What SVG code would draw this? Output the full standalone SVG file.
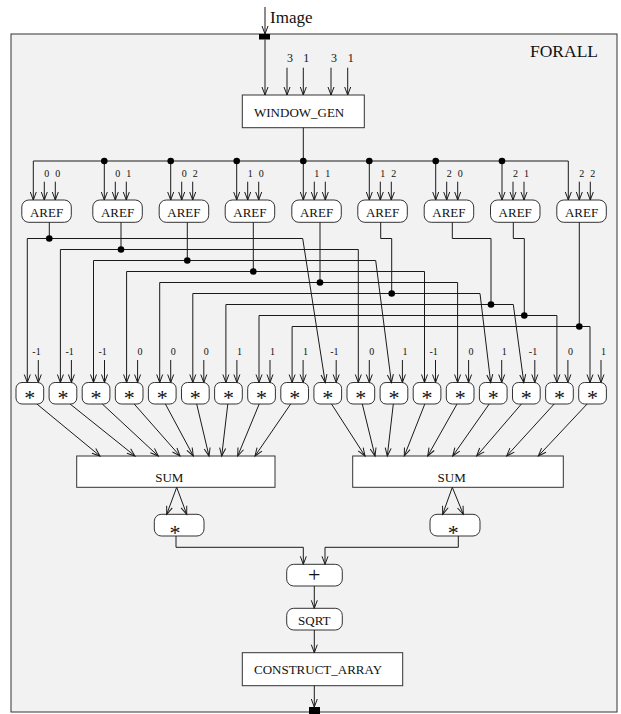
<svg xmlns="http://www.w3.org/2000/svg" width="621" height="714" viewBox="0 0 621 714">
<defs>
<marker id="a" markerUnits="userSpaceOnUse" markerWidth="12" markerHeight="10" viewBox="-10 -5 12 10" refX="0" refY="0" orient="auto"><path d="M-8,-3 L0,0 L-8,3" fill="none" stroke="#1a1a1a" stroke-width="1"/></marker>
</defs>
<style>
.ln{fill:none;stroke:#1a1a1a;stroke-width:1}
.ar{marker-end:url(#a)}
.box{fill:#fff;stroke:#333;stroke-width:1}
.dot{fill:#000}
text{font-family:"Liberation Serif","Times New Roman",serif;fill:#111}
.lb{font-size:13px}
.sm{font-size:10px}
.md{font-size:12px}
.st{font-size:22px;text-anchor:middle}
</style>
<rect id="forall" x="11" y="34" width="606" height="678" fill="#f2f2f2" stroke="#333" stroke-width="1"/>
<text x="530" y="56.7" style="font-size:17.5px">FORALL</text>
<g id="ports">
<rect x="259" y="34" width="11" height="5.5" fill="#000"/>
<rect x="309" y="707" width="11" height="7" fill="#000"/>
</g>
<text x="270" y="23" style="font-size:17px">Image</text>
<g id="window_gen"><rect class="box" x="242.3" y="95" width="122" height="32.7"/><text class="lb" x="254" y="116.7">WINDOW_GEN</text></g>
<g id="wg_params" class="md"><text x="287" y="61.7">3</text><text x="303.3" y="61.7">1</text><text x="331" y="61.7">3</text><text x="347.7" y="61.7">1</text></g>
<g id="aref1"><rect class="box" x="21.8" y="200" width="49.5" height="22.3" rx="7"/><text class="lb" x="46.5" y="216.7" text-anchor="middle">AREF</text></g>
<g id="aref2"><rect class="box" x="92.8" y="200" width="49.5" height="22.3" rx="7"/><text class="lb" x="117.5" y="216.7" text-anchor="middle">AREF</text></g>
<g id="aref3"><rect class="box" x="159.2" y="200" width="49.5" height="22.3" rx="7"/><text class="lb" x="183.9" y="216.7" text-anchor="middle">AREF</text></g>
<g id="aref4"><rect class="box" x="225.2" y="200" width="49.5" height="22.3" rx="7"/><text class="lb" x="249.9" y="216.7" text-anchor="middle">AREF</text></g>
<g id="aref5"><rect class="box" x="291.8" y="200" width="49.5" height="22.3" rx="7"/><text class="lb" x="316.5" y="216.7" text-anchor="middle">AREF</text></g>
<g id="aref6"><rect class="box" x="357.8" y="200" width="49.5" height="22.3" rx="7"/><text class="lb" x="382.5" y="216.7" text-anchor="middle">AREF</text></g>
<g id="aref7"><rect class="box" x="424.2" y="200" width="49.5" height="22.3" rx="7"/><text class="lb" x="448.9" y="216.7" text-anchor="middle">AREF</text></g>
<g id="aref8"><rect class="box" x="490.5" y="200" width="49.5" height="22.3" rx="7"/><text class="lb" x="515.2" y="216.7" text-anchor="middle">AREF</text></g>
<g id="aref9"><rect class="box" x="556.8" y="200" width="49.5" height="22.3" rx="7"/><text class="lb" x="581.5" y="216.7" text-anchor="middle">AREF</text></g>
<g id="aref_params" class="sm">
<text x="44.3" y="177.3">0</text><text x="55.3" y="177.3">0</text>
<text x="115.3" y="177.3">0</text><text x="126.3" y="177.3">1</text>
<text x="181.7" y="177.3">0</text><text x="192.7" y="177.3">2</text>
<text x="247.7" y="177.3">1</text><text x="258.7" y="177.3">0</text>
<text x="314.3" y="177.3">1</text><text x="325.3" y="177.3">1</text>
<text x="380.3" y="177.3">1</text><text x="391.3" y="177.3">2</text>
<text x="446.7" y="177.3">2</text><text x="457.7" y="177.3">0</text>
<text x="513" y="177.3">2</text><text x="524" y="177.3">1</text>
<text x="579.3" y="177.3">2</text><text x="590.3" y="177.3">2</text>
</g>
<g id="mul1"><rect class="box" x="16" y="382.5" width="27.7" height="21.5" rx="6"/><text class="st" x="29.85" y="404.5">*</text></g>
<g id="mul2"><rect class="box" x="49.1" y="382.5" width="27.7" height="21.5" rx="6"/><text class="st" x="62.95" y="404.5">*</text></g>
<g id="mul3"><rect class="box" x="82.2" y="382.5" width="27.7" height="21.5" rx="6"/><text class="st" x="96.05" y="404.5">*</text></g>
<g id="mul4"><rect class="box" x="115.3" y="382.5" width="27.7" height="21.5" rx="6"/><text class="st" x="129.15" y="404.5">*</text></g>
<g id="mul5"><rect class="box" x="148.4" y="382.5" width="27.7" height="21.5" rx="6"/><text class="st" x="162.25" y="404.5">*</text></g>
<g id="mul6"><rect class="box" x="181.5" y="382.5" width="27.7" height="21.5" rx="6"/><text class="st" x="195.35" y="404.5">*</text></g>
<g id="mul7"><rect class="box" x="214.6" y="382.5" width="27.7" height="21.5" rx="6"/><text class="st" x="228.45" y="404.5">*</text></g>
<g id="mul8"><rect class="box" x="247.7" y="382.5" width="27.7" height="21.5" rx="6"/><text class="st" x="261.55" y="404.5">*</text></g>
<g id="mul9"><rect class="box" x="280.8" y="382.5" width="27.7" height="21.5" rx="6"/><text class="st" x="294.65" y="404.5">*</text></g>
<g id="mul10"><rect class="box" x="313.9" y="382.5" width="27.7" height="21.5" rx="6"/><text class="st" x="327.75" y="404.5">*</text></g>
<g id="mul11"><rect class="box" x="347" y="382.5" width="27.7" height="21.5" rx="6"/><text class="st" x="360.85" y="404.5">*</text></g>
<g id="mul12"><rect class="box" x="380.1" y="382.5" width="27.7" height="21.5" rx="6"/><text class="st" x="393.95" y="404.5">*</text></g>
<g id="mul13"><rect class="box" x="413.2" y="382.5" width="27.7" height="21.5" rx="6"/><text class="st" x="427.05" y="404.5">*</text></g>
<g id="mul14"><rect class="box" x="446.3" y="382.5" width="27.7" height="21.5" rx="6"/><text class="st" x="460.15" y="404.5">*</text></g>
<g id="mul15"><rect class="box" x="479.4" y="382.5" width="27.7" height="21.5" rx="6"/><text class="st" x="493.25" y="404.5">*</text></g>
<g id="mul16"><rect class="box" x="512.5" y="382.5" width="27.7" height="21.5" rx="6"/><text class="st" x="526.35" y="404.5">*</text></g>
<g id="mul17"><rect class="box" x="545.6" y="382.5" width="27.7" height="21.5" rx="6"/><text class="st" x="559.45" y="404.5">*</text></g>
<g id="mul18"><rect class="box" x="578.7" y="382.5" width="27.7" height="21.5" rx="6"/><text class="st" x="592.55" y="404.5">*</text></g>
<g id="mul_params" class="sm">
<text x="32.3" y="355">-1</text><text x="65.4" y="355">-1</text><text x="98.5" y="355">-1</text>
<text x="137.6" y="355">0</text><text x="170.7" y="355">0</text><text x="203.8" y="355">0</text>
<text x="236.9" y="355">1</text><text x="270" y="355">1</text><text x="303.1" y="355">1</text>
<text x="330.2" y="355">-1</text><text x="369.3" y="355">0</text><text x="402.4" y="355">1</text>
<text x="429.5" y="355">-1</text><text x="468.6" y="355">0</text><text x="501.7" y="355">1</text>
<text x="528.8" y="355">-1</text><text x="567.9" y="355">0</text><text x="601" y="355">1</text>
</g>
<g id="sum1"><rect class="box" x="76.7" y="456" width="198.3" height="31.3"/><text class="lb" x="169.3" y="481.7" text-anchor="middle">SUM</text></g>
<g id="sum2"><rect class="box" x="352.7" y="456" width="210.6" height="31.3"/><text class="lb" x="451.7" y="481.7" text-anchor="middle">SUM</text></g>
<g id="sq1"><rect class="box" x="154.3" y="514.3" width="49.7" height="21.7" rx="7"/><text class="st" x="175" y="539.5">*</text></g>
<g id="sq2"><rect class="box" x="430" y="514.3" width="50" height="21.7" rx="7"/><text class="st" x="453.3" y="539.5">*</text></g>
<g id="plus"><rect class="box" x="286.7" y="564.3" width="55.6" height="21.7" rx="7"/><text x="314.3" y="582.3" text-anchor="middle" style="font-size:22px">+</text></g>
<g id="sqrt"><rect class="box" x="286.7" y="608.3" width="55.6" height="21.7" rx="7"/><text class="lb" x="314.3" y="624.8" text-anchor="middle">SQRT</text></g>
<g id="construct_array"><rect class="box" x="242.3" y="652.7" width="160.4" height="33"/><text class="lb" x="254" y="674.3">CONSTRUCT_ARRAY</text></g>
<g id="connectors">
<path class="ln ar" d="M265,7 V34"/>
<path class="ln ar" d="M265,39.5 V95"/>
<path class="ln ar" d="M287,67.7 V95"/>
<path class="ln ar" d="M303.3,67.7 V95"/>
<path class="ln ar" d="M331,67.7 V95"/>
<path class="ln ar" d="M347.7,67.7 V95"/>
<path class="ln" d="M303.3,127.7 V161"/>
<path class="ln ar" d="M303.3,161 H33.3 V200"/>
<path class="ln ar" d="M303.3,161 H568.3 V200"/>
<path class="ln ar" d="M104.3,161 V200"/>
<path class="ln ar" d="M170.7,161 V200"/>
<path class="ln ar" d="M236.7,161 V200"/>
<path class="ln ar" d="M303.3,161 V200"/>
<path class="ln ar" d="M369.3,161 V200"/>
<path class="ln ar" d="M435.7,161 V200"/>
<path class="ln ar" d="M502,161 V200"/>
<g id="aref_in">
<path class="ln ar" d="M44.3,181.7 V200"/><path class="ln ar" d="M55.3,181.7 V200"/>
<path class="ln ar" d="M115.3,181.7 V200"/><path class="ln ar" d="M126.3,181.7 V200"/>
<path class="ln ar" d="M181.7,181.7 V200"/><path class="ln ar" d="M192.7,181.7 V200"/>
<path class="ln ar" d="M247.7,181.7 V200"/><path class="ln ar" d="M258.7,181.7 V200"/>
<path class="ln ar" d="M314.3,181.7 V200"/><path class="ln ar" d="M325.3,181.7 V200"/>
<path class="ln ar" d="M380.3,181.7 V200"/><path class="ln ar" d="M391.3,181.7 V200"/>
<path class="ln ar" d="M446.7,181.7 V200"/><path class="ln ar" d="M457.7,181.7 V200"/>
<path class="ln ar" d="M513,181.7 V200"/><path class="ln ar" d="M524,181.7 V200"/>
<path class="ln ar" d="M579.3,181.7 V200"/><path class="ln ar" d="M590.3,181.7 V200"/>
</g>
<g id="aref_out">
<path class="ln" d="M49.3,222.3 V238.5"/>
<path class="ln" d="M121,222.3 V249.5"/>
<path class="ln" d="M187.3,222.3 V260.5"/>
<path class="ln" d="M253.3,222.3 V271.5"/>
<path class="ln" d="M320,222.3 V282.5"/>
<path class="ln" d="M380.7,222.3 V238.5 H391.7 V293.5"/>
<path class="ln" d="M452.3,222.3 V238.5 H491 V304.5"/>
<path class="ln" d="M513.3,222.3 V238.5 H524.3 V315.5"/>
<path class="ln" d="M579.3,222.3 V326.5"/>
</g>
<g id="fanout">
<path class="ln ar" d="M49.3,238.5 H27.3 V382.5"/><path class="ln ar" d="M49.3,238.5 H302.7 L325.2,382.5"/>
<path class="ln ar" d="M121,249.5 H60.4 V382.5"/><path class="ln ar" d="M121,249.5 H358.3 V382.5"/>
<path class="ln ar" d="M187.3,260.5 H93.5 V382.5"/><path class="ln ar" d="M187.3,260.5 H375.7 L391.4,382.5"/>
<path class="ln ar" d="M253.3,271.5 H126.6 V382.5"/><path class="ln ar" d="M253.3,271.5 H424.5 V382.5"/>
<path class="ln ar" d="M320,282.5 H159.7 V382.5"/><path class="ln ar" d="M320,282.5 H457.6 V382.5"/>
<path class="ln ar" d="M391.7,293.5 H192.8 V382.5"/><path class="ln ar" d="M391.7,293.5 H480 L490.7,382.5"/>
<path class="ln ar" d="M491,304.5 H225.9 V382.5"/><path class="ln ar" d="M491,304.5 H513.3 L523.8,382.5"/>
<path class="ln ar" d="M524.3,315.5 H259 V382.5"/><path class="ln ar" d="M524.3,315.5 H556.9 V382.5"/>
<path class="ln ar" d="M579.3,326.5 H292.1 V382.5"/><path class="ln ar" d="M579.3,326.5 H590 V382.5"/>
</g>
<g id="dots">
<circle class="dot" cx="104.3" cy="161" r="3.3"/><circle class="dot" cx="170.7" cy="161" r="3.3"/><circle class="dot" cx="236.7" cy="161" r="3.3"/><circle class="dot" cx="303.3" cy="161" r="3.3"/><circle class="dot" cx="369.3" cy="161" r="3.3"/><circle class="dot" cx="435.7" cy="161" r="3.3"/><circle class="dot" cx="502" cy="161" r="3.3"/>
<circle class="dot" cx="49.3" cy="238.5" r="3.3"/><circle class="dot" cx="121" cy="249.5" r="3.3"/><circle class="dot" cx="187.3" cy="260.5" r="3.3"/><circle class="dot" cx="253.3" cy="271.5" r="3.3"/><circle class="dot" cx="320" cy="282.5" r="3.3"/><circle class="dot" cx="391.7" cy="293.5" r="3.3"/><circle class="dot" cx="491" cy="304.5" r="3.3"/><circle class="dot" cx="524.3" cy="315.5" r="3.3"/><circle class="dot" cx="579.3" cy="326.5" r="3.3"/>
</g>
<g id="mul_in">
<path class="ln ar" d="M38.3,360 V382.5"/><path class="ln ar" d="M71.4,360 V382.5"/><path class="ln ar" d="M104.5,360 V382.5"/>
<path class="ln ar" d="M137.6,360 V382.5"/><path class="ln ar" d="M170.7,360 V382.5"/><path class="ln ar" d="M203.8,360 V382.5"/>
<path class="ln ar" d="M236.9,360 V382.5"/><path class="ln ar" d="M270,360 V382.5"/><path class="ln ar" d="M303.1,360 V382.5"/>
<path class="ln ar" d="M336.2,360 V382.5"/><path class="ln ar" d="M369.3,360 V382.5"/><path class="ln ar" d="M402.4,360 V382.5"/>
<path class="ln ar" d="M435.5,360 V382.5"/><path class="ln ar" d="M468.6,360 V382.5"/><path class="ln ar" d="M501.7,360 V382.5"/>
<path class="ln ar" d="M534.8,360 V382.5"/><path class="ln ar" d="M567.9,360 V382.5"/><path class="ln ar" d="M601,360 V382.5"/>
</g>
<g id="to_sum">
<path class="ln ar" d="M36.9,404 L100,456"/>
<path class="ln ar" d="M70.1,404 L135,456"/>
<path class="ln ar" d="M102.3,404 L158.3,456"/>
<path class="ln ar" d="M134.2,404 L180,456"/>
<path class="ln ar" d="M165.4,404 L193.3,456"/>
<path class="ln ar" d="M196.7,404 L209,456"/>
<path class="ln ar" d="M227.8,404 L221.7,456"/>
<path class="ln ar" d="M259.2,404 L237.7,456"/>
<path class="ln ar" d="M290.7,404 L255,456"/>
<path class="ln ar" d="M331.5,404 L365,456"/>
<path class="ln ar" d="M362.3,404 L375,456"/>
<path class="ln ar" d="M393.3,404 L387.3,456"/>
<path class="ln ar" d="M424.8,404 L404.3,456"/>
<path class="ln ar" d="M457,404 L427.7,456"/>
<path class="ln ar" d="M489.2,404 L452.7,456"/>
<path class="ln ar" d="M521.4,404 L476.7,456"/>
<path class="ln ar" d="M554.2,404 L506.7,456"/>
<path class="ln ar" d="M587.1,404 L538.3,456"/>
</g>
<path class="ln ar" d="M176.7,487.3 L166.7,514.3"/>
<path class="ln ar" d="M176.7,487.3 L186.7,514.3"/>
<path class="ln ar" d="M452.3,487.3 L442.7,514.3"/>
<path class="ln ar" d="M452.3,487.3 L463.3,514.3"/>
<path class="ln ar" d="M176,536 V547.3 H303.3 V564.3"/>
<path class="ln ar" d="M458.3,536 V547.3 H325 V564.3"/>
<path class="ln ar" d="M314.3,586 V608.3"/>
<path class="ln ar" d="M314.3,630 V652.7"/>
<path class="ln ar" d="M314.3,685.7 V707"/>
</g>
</svg>
